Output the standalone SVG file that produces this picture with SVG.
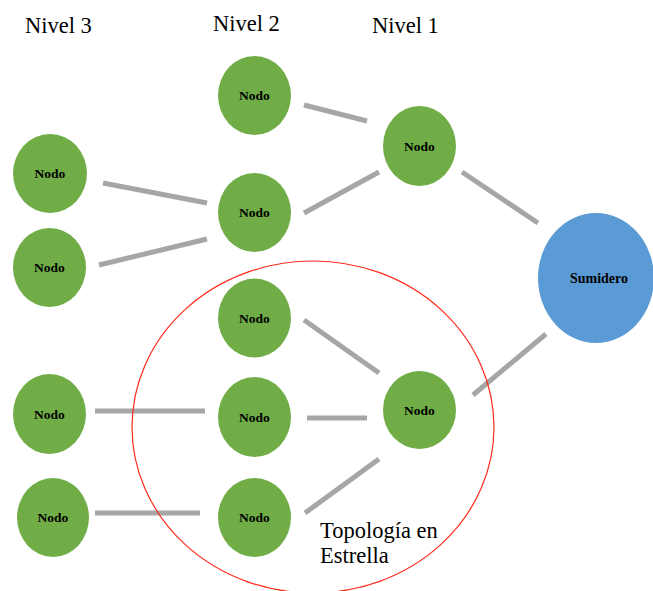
<svg xmlns="http://www.w3.org/2000/svg" width="653" height="591" viewBox="0 0 653 591">
<style>
.n{fill:#70AD47}
.s{fill:#5B9BD5}
.t{font-family:"Liberation Serif",serif;font-weight:bold;font-size:13.5px;fill:#000;text-anchor:middle}
.lbl{font-family:"Liberation Serif",serif;font-size:22.5px;fill:#000}
.c line{stroke:#A6A6A6;stroke-width:5}
</style>
<rect width="653" height="591" fill="#fff"/>
<text class="lbl" x="25" y="33">Nivel 3</text>
<text class="lbl" x="213" y="31">Nivel 2</text>
<text class="lbl" x="372" y="33">Nivel 1</text>
<g class="c" id="connectors">
<line x1="304" y1="105" x2="367" y2="121"/>
<line x1="304" y1="213" x2="379" y2="172"/>
<line x1="103" y1="183" x2="207" y2="203"/>
<line x1="99" y1="265" x2="207" y2="239"/>
<line x1="462" y1="172" x2="538" y2="223"/>
<line x1="546" y1="334" x2="473" y2="395"/>
<line x1="95" y1="411" x2="205" y2="411"/>
<line x1="95" y1="513" x2="200" y2="513"/>
<line x1="307" y1="418" x2="367" y2="418"/>
<line x1="304" y1="320" x2="379" y2="373"/>
<line x1="379" y1="459" x2="305" y2="513"/>
</g>
<ellipse cx="313" cy="427" rx="181" ry="166" fill="none" stroke="#FF2A1A" stroke-width="1.2"/>
<g id="n2a"><ellipse class="n" cx="254.5" cy="95.5" rx="36.5" ry="39.5"/><text class="t" x="254.5" y="100">Nodo</text></g>
<g id="n1a"><ellipse class="n" cx="419.5" cy="146" rx="36.5" ry="40"/><text class="t" x="419.5" y="150.5">Nodo</text></g>
<g id="n2b"><ellipse class="n" cx="254.5" cy="212.5" rx="36.5" ry="39.5"/><text class="t" x="254.5" y="217">Nodo</text></g>
<g id="n3a"><ellipse class="n" cx="50" cy="173.5" rx="37" ry="39.5"/><text class="t" x="50" y="178">Nodo</text></g>
<g id="n3b"><ellipse class="n" cx="49.5" cy="267.5" rx="36.5" ry="39.5"/><text class="t" x="49.5" y="272">Nodo</text></g>
<g id="sink"><ellipse class="s" cx="596" cy="278" rx="58" ry="65"/><text class="t" x="599" y="283" style="font-size:14px">Sumidero</text></g>
<g id="n2c"><ellipse class="n" cx="254.5" cy="318" rx="36.5" ry="39.5"/><text class="t" x="254.5" y="322.5">Nodo</text></g>
<g id="n2d"><ellipse class="n" cx="254.5" cy="417" rx="36.5" ry="40"/><text class="t" x="254.5" y="421.5">Nodo</text></g>
<g id="n2e"><ellipse class="n" cx="254.5" cy="517.5" rx="36.5" ry="39.5"/><text class="t" x="254.5" y="522">Nodo</text></g>
<g id="n1b"><ellipse class="n" cx="419.5" cy="410" rx="36.5" ry="39"/><text class="t" x="419.5" y="414.5">Nodo</text></g>
<g id="n3c"><ellipse class="n" cx="49.5" cy="414" rx="36.5" ry="40"/><text class="t" x="49.5" y="418.5">Nodo</text></g>
<g id="n3d"><ellipse class="n" cx="53" cy="517.5" rx="36" ry="39.5"/><text class="t" x="53" y="522">Nodo</text></g>
<text class="lbl" x="320" y="538">Topología en</text>
<text class="lbl" x="320" y="563">Estrella</text>
</svg>
